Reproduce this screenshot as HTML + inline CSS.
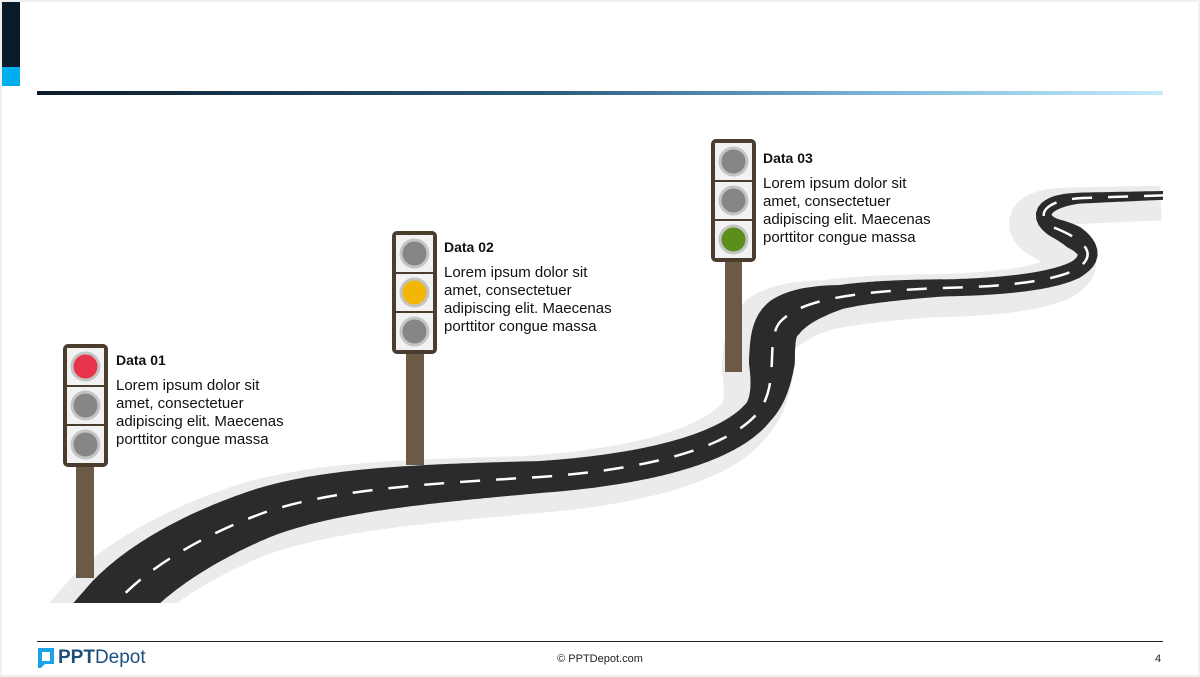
<!DOCTYPE html>
<html><head><meta charset="utf-8"><style>
html,body{margin:0;padding:0;background:#f0f0f0;}
.s{position:absolute;left:2px;top:2px;width:1196px;height:673px;background:#fff;overflow:hidden;}
body{width:1200px;height:677px;position:relative;overflow:hidden;font-family:"Liberation Sans",Arial,sans-serif;}
.t{position:absolute;font-size:15px;line-height:18px;color:#111;}
.t b{display:block;font-size:14px;margin-bottom:8px;}
</style></head><body>
<div class="s"></div>
<div style="position:absolute;left:2px;top:2px;width:18px;height:65px;background:#0a1c2c"></div>
<div style="position:absolute;left:2px;top:67px;width:18px;height:19px;background:#00aeef"></div>
<div style="position:absolute;left:37px;top:91px;width:1126px;height:4px;background:linear-gradient(90deg,#0b1b2b,#2a5a7a 45%,#7ab8d8 75%,#c5eafb)"></div>
<svg width="1200" height="677" style="position:absolute;left:0;top:0">
<defs><clipPath id="c"><rect x="0" y="0" width="1163" height="603"/></clipPath></defs>
<g clip-path="url(#c)" fill="none" stroke-linecap="butt" stroke-linejoin="round">
<g id="fallback">
<g stroke="#ebebeb" transform="translate(-8,7)" stroke-linecap="round">
<path d="M95,625 L150,568" stroke-width="100"/>
<path d="M150,568 C180,545 220,527 263,513" stroke-width="80"/>
<path d="M263,513 C330,490 420,484 540,477" stroke-width="56"/>
<path d="M540,477 C640,470 730,450 760,410" stroke-width="48"/>
<path d="M760,410 C780,380 765,340 780,322" stroke-width="72"/>
<path d="M780,322 C800,300 850,292 940,288" stroke-width="40"/>
<path d="M940,288 C1000,287 1050,282 1075,270" stroke-width="32"/>
<path d="M1075,270 C1100,255 1085,240 1055,228" stroke-width="38"/>
<path d="M1055,228 C1035,218 1040,200 1083,198" stroke-width="28"/>
<path d="M1083,198 L1170,195" stroke-width="18"/>
</g>
<g stroke="#2b2b2b">
<path d="M95,627 L150,568" stroke-width="68"/>
<path d="M150,568 C180,545 220,527 263,513" stroke-width="56"/>
<path d="M263,513 C330,490 420,484 540,477" stroke-width="38"/>
<path d="M540,477 C640,470 730,450 760,410" stroke-width="30"/>
<path d="M760,410 C780,380 765,340 780,322" stroke-width="48"/>
<path d="M780,322 C800,300 850,292 940,288" stroke-width="24"/>
<path d="M940,288 C1000,287 1050,282 1075,270" stroke-width="17"/>
<path d="M1075,270 C1100,255 1085,240 1055,228" stroke-width="22"/>
<path d="M1055,228 C1035,218 1040,200 1083,198" stroke-width="15"/>
<path d="M1083,198 L1170,195" stroke-width="10"/>
</g>
</g>
<polygon id="shadow" points="" fill="#ebebeb" stroke="none" transform="translate(-14,8)"/>
<polygon id="road" points="" fill="#2b2b2b" stroke="none"/>
<path id="center" d="M95,627 L115,604 C140,575 190,540 263,513 C330,490 420,484 540,477 C640,470 730,450 760,410 C780,380 765,340 780,322 C800,300 850,292 940,288 C1000,287 1050,282 1075,270 C1100,255 1085,240 1055,228 C1035,218 1040,200 1083,198 L1175,195" stroke="#fff" stroke-width="2.5" stroke-dasharray="20 16" stroke-dashoffset="-10"/>
</g>
<g transform="translate(63,344)">
<rect x="13" y="120" width="18" height="114" fill="#6b5a45"/>
<rect x="0" y="0" width="45" height="123" rx="5" fill="#4b3d2d"/>
<rect x="4" y="4" width="37" height="37" fill="#f2f2f2"/><rect x="4" y="43" width="37" height="37" fill="#f2f2f2"/><rect x="4" y="82" width="37" height="37" fill="#f2f2f2"/>
<circle cx="22.5" cy="22.5" r="15" fill="#c4c4c4"/><circle cx="22.5" cy="22.5" r="12" fill="#e8344a"/>
<circle cx="22.5" cy="61.5" r="15" fill="#c4c4c4"/><circle cx="22.5" cy="61.5" r="12" fill="#868686"/>
<circle cx="22.5" cy="100.5" r="15" fill="#c4c4c4"/><circle cx="22.5" cy="100.5" r="12" fill="#868686"/>
</g>
<g transform="translate(392,231)">
<rect x="14" y="120" width="18" height="114" fill="#6b5a45"/>
<rect x="0" y="0" width="45" height="123" rx="5" fill="#4b3d2d"/>
<rect x="4" y="4" width="37" height="37" fill="#f2f2f2"/><rect x="4" y="43" width="37" height="37" fill="#f2f2f2"/><rect x="4" y="82" width="37" height="37" fill="#f2f2f2"/>
<circle cx="22.5" cy="22.5" r="15" fill="#c4c4c4"/><circle cx="22.5" cy="22.5" r="12" fill="#868686"/>
<circle cx="22.5" cy="61.5" r="15" fill="#c4c4c4"/><circle cx="22.5" cy="61.5" r="12" fill="#f2b705"/>
<circle cx="22.5" cy="100.5" r="15" fill="#c4c4c4"/><circle cx="22.5" cy="100.5" r="12" fill="#868686"/>
</g>
<g transform="translate(711,139)">
<rect x="14" y="120" width="17" height="113" fill="#6b5a45"/>
<rect x="0" y="0" width="45" height="123" rx="5" fill="#4b3d2d"/>
<rect x="4" y="4" width="37" height="37" fill="#f2f2f2"/><rect x="4" y="43" width="37" height="37" fill="#f2f2f2"/><rect x="4" y="82" width="37" height="37" fill="#f2f2f2"/>
<circle cx="22.5" cy="22.5" r="15" fill="#c4c4c4"/><circle cx="22.5" cy="22.5" r="12" fill="#868686"/>
<circle cx="22.5" cy="61.5" r="15" fill="#c4c4c4"/><circle cx="22.5" cy="61.5" r="12" fill="#868686"/>
<circle cx="22.5" cy="100.5" r="15" fill="#c4c4c4"/><circle cx="22.5" cy="100.5" r="12" fill="#5a8f1c"/>
</g>
<line x1="37" y1="641.5" x2="1163" y2="641.5" stroke="#222" stroke-width="1"/>
<path d="M38,648 h16 v16 h-9 l-4,4 h-3 z" fill="#1aa3e8"/>
<path d="M42,652 h8 v9 h-8 z" fill="#fff"/>
</svg>
<div class="t" style="left:116px;top:351px"><b>Data 01</b>Lorem ipsum dolor sit<br>amet, consectetuer<br>adipiscing elit. Maecenas<br>porttitor congue massa</div>
<div class="t" style="left:444px;top:238px"><b>Data 02</b>Lorem ipsum dolor sit<br>amet, consectetuer<br>adipiscing elit. Maecenas<br>porttitor congue massa</div>
<div class="t" style="left:763px;top:149px"><b>Data 03</b>Lorem ipsum dolor sit<br>amet, consectetuer<br>adipiscing elit. Maecenas<br>porttitor congue massa</div>
<div style="position:absolute;left:58px;top:647px;font-size:19px;color:#1c4f7c;"><b>PPT</b>Depot</div>
<div style="position:absolute;left:0;width:1200px;top:653px;text-align:center;font-size:11px;color:#222">© PPTDepot.com</div>
<div style="position:absolute;left:1155px;top:653px;font-size:11px;color:#222">4</div>
<script>
(function(){
try{
var p=document.getElementById('center');var L=p.getTotalLength();
var off=30;
var keys=[[0,64],[175,50],[455,32],[690,30],[740,46],[790,44],[850,24],[955,17],[1095,18],[1130,24],[1160,17],[1210,11],[1330,8]];
function w(s){s=s-off;if(s<=keys[0][0])return keys[0][1];for(var i=1;i<keys.length;i++){if(s<=keys[i][0]){var a=keys[i-1],b=keys[i];return a[1]+(b[1]-a[1])*(s-a[0])/(b[0]-a[0]);}}return keys[keys.length-1][1];}
function build(extra){var left=[],right=[];var n=400;for(var i=0;i<=n;i++){var s=L*i/n;var a=p.getPointAtLength(Math.max(0,s-1)),b=p.getPointAtLength(Math.min(L,s+1)),c=p.getPointAtLength(s);var dx=b.x-a.x,dy=b.y-a.y,d=Math.hypot(dx,dy)||1;var nx=-dy/d,ny=dx/d;var h=(w(s)+extra)/2;left.push((c.x+nx*h).toFixed(1)+','+(c.y+ny*h).toFixed(1));right.push((c.x-nx*h).toFixed(1)+','+(c.y-ny*h).toFixed(1));}return left.concat(right.reverse()).join(' ');}
document.getElementById('road').setAttribute('points',build(0));
document.getElementById('shadow').setAttribute('points',build(26));
var f=document.getElementById('fallback');f.parentNode.removeChild(f);
}catch(e){}
})();
</script>
</body></html>
